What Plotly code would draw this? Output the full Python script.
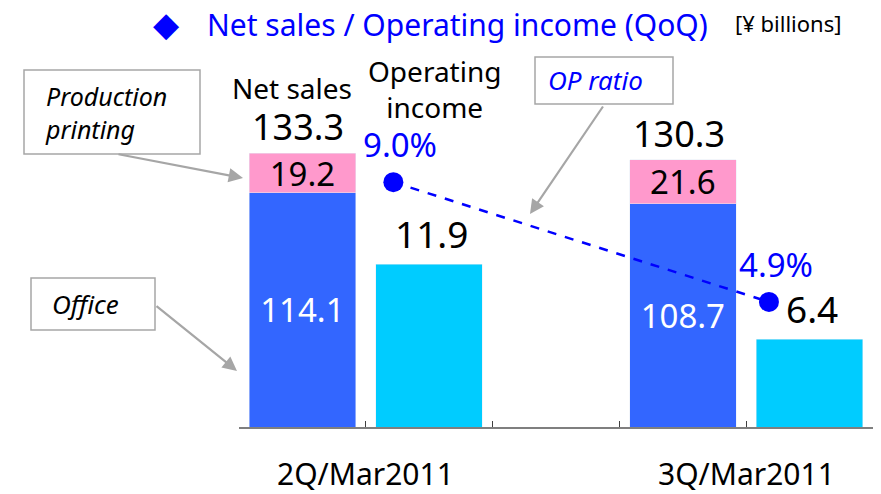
import plotly.graph_objects as go

# ---------------- data ----------------
periods = ["2Q/Mar2011", "3Q/Mar2011"]
office = [114.1, 108.7]
production_printing = [19.2, 21.6]
net_sales = [133.3, 130.3]
operating_income = [11.9, 6.4]
op_ratio = [9.0, 4.9]

ns_slots = ["2Q NS", "3Q NS"]
oi_slots = ["2Q OI", "3Q OI"]
slot_order = ["2Q NS", "2Q OI", "gap", "3Q NS", "3Q OI"]

# ---------------- layout geometry (pixels) ----------------
WIDTH, HEIGHT = 881, 494
L, R, T, B = 239, 873, 60, 427
PW, PH = R - L, B - T


def px(x):
    return (x - L) / PW


def py(y):
    return (B - y) / PH


FONT = "Noto Sans"
BLUE = "#0000FF"
GRAY = "#A6A6A6"
C_OFFICE = "#3366FF"
C_PP = "#FF99CC"
C_OI = "#00CCFF"

fig = go.Figure()

fig.add_trace(go.Bar(
    x=ns_slots, y=office, name="Office", marker_color=C_OFFICE,
    width=0.84, text=[f"{v:.1f}" for v in office], textposition="inside",
    insidetextanchor="middle", constraintext="none",
    textfont=dict(family=FONT, size=33, color="white"),
    xaxis="x", yaxis="y", showlegend=False,
))
fig.add_trace(go.Bar(
    x=ns_slots, y=production_printing, name="Production printing",
    marker_color=C_PP, width=0.84,
    text=[f"{v:.1f}" for v in production_printing], textposition="inside",
    insidetextanchor="middle", constraintext="none",
    textfont=dict(family=FONT, size=33, color="black"),
    xaxis="x", yaxis="y", showlegend=False,
))
fig.add_trace(go.Bar(
    x=oi_slots, y=operating_income, name="Operating income",
    marker_color=C_OI, width=0.84,
    xaxis="x", yaxis="y2", showlegend=False,
))
fig.add_trace(go.Scatter(
    x=periods, y=op_ratio, mode="lines+markers", name="OP ratio",
    line=dict(color=BLUE, width=2.5, dash="dash"),
    marker=dict(color=BLUE, size=20),
    xaxis="x2", yaxis="y3", showlegend=False, cliponaxis=False,
))

annotations = []


def note(x, y, text, size, color="black", xanchor="center", align="center",
         family=FONT):
    annotations.append(dict(x=px(x), y=py(y), xref="paper", yref="paper",
                            text=text, showarrow=False, xanchor=xanchor,
                            yanchor="middle", align=align,
                            font=dict(family=family, size=size, color=color)))


# totals above net sales bars
for s, v in zip(ns_slots, net_sales):
    annotations.append(dict(x=s, y=v, xref="x", yref="y", text=f"{v:.1f}",
                            showarrow=False, xanchor="center",
                            yanchor="bottom", yshift=0, xshift=-4,
                            font=dict(family=FONT, size=36, color="black")))
# operating income labels
for s, v in zip(oi_slots, operating_income):
    annotations.append(dict(x=s, y=v, xref="x", yref="y2", text=f"{v:.1f}",
                            showarrow=False, xanchor="center",
                            yanchor="bottom", yshift=3, xshift=2,
                            font=dict(family=FONT, size=37, color="black")))
# op ratio labels
for p, v in zip(periods, op_ratio):
    annotations.append(dict(x=p, y=v, xref="x2", yref="y3", text=f"{v:.1f}%",
                            showarrow=False, xanchor="center",
                            yanchor="bottom", yshift=13, xshift=7,
                            font=dict(family=FONT, size=33, color=BLUE)))
# period labels
for i, p in enumerate(periods):
    annotations.append(dict(x=0.5 + 3 * i, y=0, xref="x", yref="paper",
                            text=p, showarrow=False, xanchor="center",
                            yanchor="middle", yshift=-46,
                            font=dict(family=FONT, size=30, color="black")))

# column headers
note(292, 88, "Net sales", 28)
note(434, 89, "Operating<br>income", 28)

# title
note(166, 24, "◆", 34, BLUE, family="DejaVu Sans")
note(205, 24, "Net sales / Operating income (QoQ)", 30, BLUE, xanchor="left")
note(733, 23, "[¥ billions]", 22, "black", xanchor="left")

# callout texts
note(43, 112, "<i>Production<br>printing</i>", 25, xanchor="left",
     align="left")
note(50, 304, "<i>Office</i>", 26, xanchor="left")
note(546, 80, "<i>OP ratio</i>", 26, BLUE, xanchor="left")

# callout arrows (head, tail) in pixels
arrows = [((243, 178), (117, 154)), ((237, 371), (155, 305)),
          ((530, 214), (604, 105))]
for (hx, hy), (tx, ty) in arrows:
    annotations.append(dict(x=px(hx), y=py(hy), xref="paper", yref="paper",
                            ax=tx - hx, ay=ty - hy, axref="pixel",
                            ayref="pixel", text="", showarrow=True,
                            arrowhead=2, arrowsize=1.3, arrowwidth=2.2,
                            arrowcolor=GRAY, standoff=0))

shapes = []
for (x0, y0, x1, y1) in [(24, 70, 200, 154), (31, 278, 155, 330),
                         (535, 57, 673, 104)]:
    shapes.append(dict(type="rect", xref="paper", yref="paper",
                       x0=px(x0), x1=px(x1), y0=py(y1), y1=py(y0),
                       line=dict(color=GRAY, width=1.5), fillcolor="white",
                       layer="below"))

fig.update_layout(
    width=WIDTH, height=HEIGHT,
    margin=dict(l=L, r=WIDTH - R, t=T, b=HEIGHT - B, pad=0),
    paper_bgcolor="white", plot_bgcolor="white",
    barmode="stack", bargap=0.16,
    font=dict(family=FONT),
    xaxis=dict(type="category", categoryorder="array",
               categoryarray=slot_order, range=[-0.5, 4.5],
               showticklabels=False, tickson="boundaries", ticks="inside",
               ticklen=6, tickwidth=1.2, tickcolor="#404040",
               showline=True, linecolor="#7F7F7F", linewidth=2,
               showgrid=False, zeroline=False, fixedrange=True),
    xaxis2=dict(type="category", overlaying="x", range=[-0.411, 1.277],
                visible=False, showgrid=False),
    yaxis=dict(range=[0, 178.8], visible=False, showgrid=False),
    yaxis2=dict(range=[0, 26.8], overlaying="y", visible=False,
                showgrid=False),
    yaxis3=dict(range=[0.62, 13.18], overlaying="y", visible=False,
                showgrid=False),
    annotations=annotations,
    shapes=shapes,
)

fig.write_html("out.html", config={"displayModeBar": False},
               post_script="document.body.style.margin='0';"
                           "document.body.style.overflow='hidden';")
